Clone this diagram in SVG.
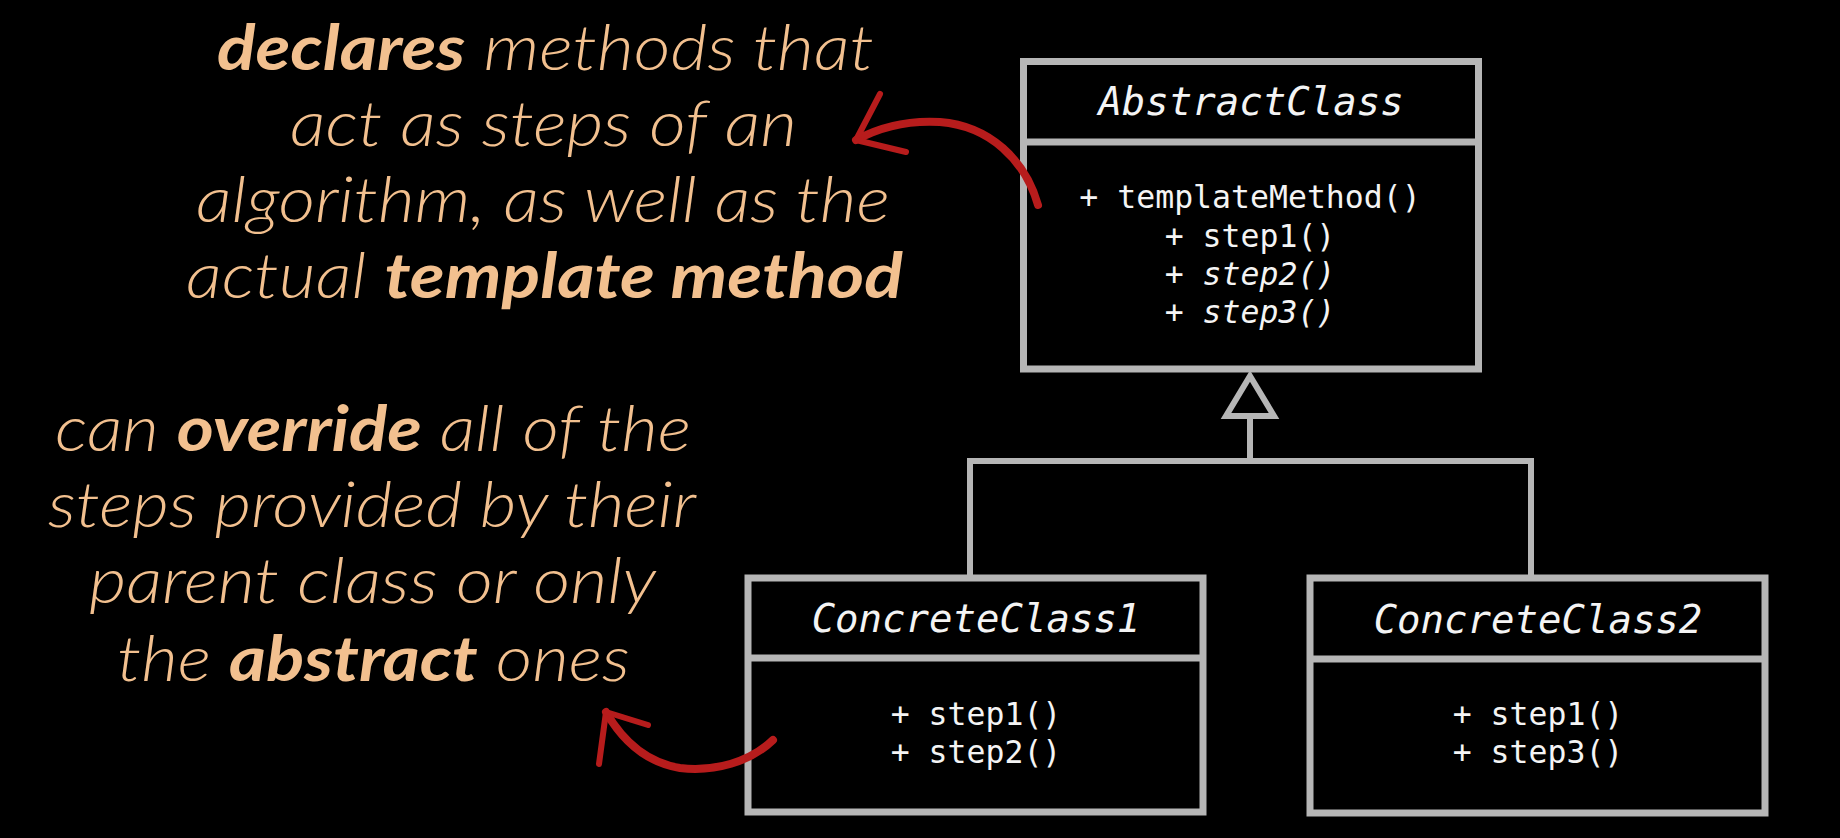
<svg xmlns="http://www.w3.org/2000/svg" width="1840" height="838" viewBox="0 0 1840 838">
  <defs>
    <style>
      .box { fill: #000; stroke: #b6b6b6; stroke-width: 7; }
      .div { stroke: #b6b6b6; stroke-width: 7; }
      .conn { fill: none; stroke: #b6b6b6; stroke-width: 6; }
      .tri { fill: #000; stroke: #b6b6b6; stroke-width: 6; stroke-linejoin: miter; }
      .title { font-family: "DejaVu Sans Mono", "Liberation Mono", monospace; font-size: 39px; font-style: italic; fill: #f4f4f4; text-anchor: middle; }
      .meth { font-family: "DejaVu Sans Mono", "Liberation Mono", monospace; font-size: 31.5px; fill: #f4f4f4; text-anchor: middle; }
      .it { font-style: italic; }
      .note { font-family: Lato, "Open Sans", "Noto Sans", sans-serif; font-size: 63px; font-style: italic; font-weight: 300; fill: #f2c08f; }
      .b { font-weight: 700; }
      .red { fill: none; stroke: #b71c1c; stroke-width: 8; stroke-linecap: round; stroke-linejoin: round; }
      .redt { fill: none; stroke: #b71c1c; stroke-width: 6; stroke-linecap: round; }
    </style>
  </defs>
  <rect width="1840" height="838" fill="#000"/>

  <g id="connectors">
    <path class="conn" d="M970 578 V461 H1531 V578"/>
    <path class="conn" d="M1250 461 V416"/>
    <polygon class="tri" points="1250,376 1226,416 1274,416"/>
  </g>

  <g id="abstract-class">
    <rect class="box" x="1023.5" y="61.5" width="455" height="307.5"/>
    <line class="div" x1="1023.5" y1="142" x2="1478.5" y2="142"/>
    <text class="title" x="1251" y="115">AbstractClass</text>
    <text class="meth" x="1250" y="208">+ templateMethod()</text>
    <text class="meth" x="1250" y="247">+ step1()</text>
    <text class="meth" x="1250" y="285">+ <tspan class="it">step2()</tspan></text>
    <text class="meth" x="1250" y="323">+ <tspan class="it">step3()</tspan></text>
  </g>

  <g id="concrete-class-1">
    <rect class="box" x="748" y="578" width="455" height="234"/>
    <line class="div" x1="748" y1="658" x2="1203" y2="658"/>
    <text class="title" x="976" y="632">ConcreteClass1</text>
    <text class="meth" x="976" y="725">+ step1()</text>
    <text class="meth" x="976" y="763">+ step2()</text>
  </g>

  <g id="concrete-class-2">
    <rect class="box" x="1310" y="578" width="455" height="235"/>
    <line class="div" x1="1310" y1="659" x2="1765" y2="659"/>
    <text class="title" x="1538" y="633">ConcreteClass2</text>
    <text class="meth" x="1538" y="725">+ step1()</text>
    <text class="meth" x="1538" y="763">+ step3()</text>
  </g>

  <g id="note-abstract">
    <text class="note" x="217" y="70" textLength="657" lengthAdjust="spacingAndGlyphs"><tspan class="b">declares</tspan> methods that</text>
    <text class="note" x="290" y="146" textLength="507" lengthAdjust="spacingAndGlyphs">act as steps of an</text>
    <text class="note" x="196" y="222" textLength="694" lengthAdjust="spacingAndGlyphs">algorithm, as well as the</text>
    <text class="note" x="186" y="298" textLength="717" lengthAdjust="spacingAndGlyphs">actual <tspan class="b">template method</tspan></text>
    <path class="red" d="M1038 205 C1025 160 990 126 940 122 C905 120 878 128 856 140"/>
    <path class="redt" d="M856 140 L880 94"/>
    <path class="redt" d="M856 140 L906 152"/>
  </g>

  <g id="note-concrete">
    <text class="note" x="55" y="451" textLength="636" lengthAdjust="spacingAndGlyphs">can <tspan class="b">override</tspan> all of the</text>
    <text class="note" x="48" y="527" textLength="648" lengthAdjust="spacingAndGlyphs">steps provided by their</text>
    <text class="note" x="89" y="603" textLength="567" lengthAdjust="spacingAndGlyphs">parent class or only</text>
    <text class="note" x="117" y="681" textLength="513" lengthAdjust="spacingAndGlyphs">the <tspan class="b">abstract</tspan> ones</text>
    <path class="red" d="M773 740 C750 762 715 772 680 768 C650 763 625 745 606 712"/>
    <path class="redt" d="M606 712 L599 764"/>
    <path class="redt" d="M606 712 L648 725"/>
  </g>
</svg>
